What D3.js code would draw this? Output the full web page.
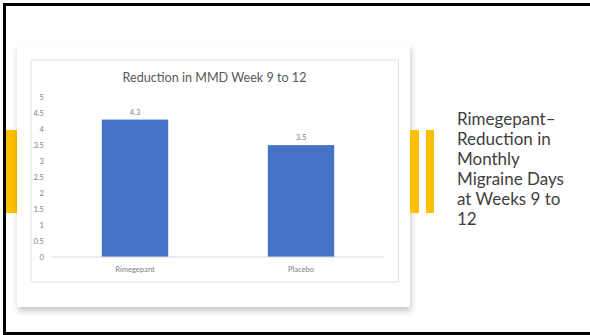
<!DOCTYPE html>
<html>
<head>
<meta charset="utf-8">
<script src="https://cdn.jsdelivr.net/npm/d3@7"></script>
<style>
  html, body { margin: 0; padding: 0; background: #fff; }
  svg { display: block; }
</style>
</head>
<body>
<svg id="slide" width="590" height="335"></svg>
<script>
// Chart data
const categories = ["Rimegepant", "Placebo"];
const values = [4.3, 3.5];
const yTicks = [0, 0.5, 1, 1.5, 2, 2.5, 3, 3.5, 4, 4.5, 5];
const chartTitle = "Reduction in MMD Week 9 to 12";
const sideTextLines = ["Rimegepant\u2013", "Reduction in", "Monthly", "Migraine Days", "at Weeks 9 to", "12"];

const svg = d3.select("#slide");
const FONT = "Lato, 'Open Sans', sans-serif";

// Soft drop shadow for the card
const defs = svg.append("defs");
const f = defs.append("filter").attr("id", "cardShadow")
  .attr("x", "-5%").attr("y", "-5%").attr("width", "110%").attr("height", "115%");
f.append("feDropShadow").attr("dx", 1).attr("dy", 4).attr("stdDeviation", 3)
  .attr("flood-color", "#000").attr("flood-opacity", 0.22);

// Slide frame (top, left, bottom rules)
svg.append("rect").attr("x", 3).attr("y", 3).attr("width", 587).attr("height", 3).attr("fill", "#000");
svg.append("rect").attr("x", 3).attr("y", 3).attr("width", 3).attr("height", 332).attr("fill", "#000");
svg.append("rect").attr("x", 3).attr("y", 332).attr("width", 587).attr("height", 3).attr("fill", "#000");

// Accent bars
const accent = "#FFC000";
svg.append("rect").attr("x", 6).attr("y", 130).attr("width", 11).attr("height", 83).attr("fill", accent);

// Card
svg.append("rect").attr("x", 17).attr("y", 44).attr("width", 393).attr("height", 263)
  .attr("fill", "#fff").attr("filter", "url(#cardShadow)");

svg.append("rect").attr("x", 410).attr("y", 130).attr("width", 9).attr("height", 83).attr("fill", accent);
svg.append("rect").attr("x", 426).attr("y", 130).attr("width", 8).attr("height", 83).attr("fill", accent);

// Chart area border
svg.append("rect").attr("x", 31).attr("y", 60).attr("width", 367.5).attr("height", 222)
  .attr("fill", "none").attr("stroke", "#d9d9d9").attr("stroke-width", 0.8);

// Title
svg.append("text").attr("x", 214.5).attr("y", 81.5)
  .attr("text-anchor", "middle").attr("font-family", FONT).attr("font-size", 12.6)
  .attr("fill", "#595959").text(chartTitle);

// Scales
const x = d3.scaleBand().domain(categories).range([52, 384]).paddingInner(0.6).paddingOuter(0.3);
const y = d3.scaleLinear().domain([0, 5]).range([257, 97.2]);

// Y axis labels
const yAxis = svg.append("g").attr("transform", "translate(45,0)")
  .call(d3.axisLeft(y).tickValues(yTicks).tickSize(0).tickPadding(1).tickFormat(d3.format("~g")));
yAxis.select(".domain").remove();
yAxis.selectAll("text").attr("font-family", FONT).attr("font-size", 7.6).attr("fill", "#808080");

// Bars
svg.append("g").selectAll("rect").data(values).join("rect")
  .attr("x", (d, i) => x(categories[i]))
  .attr("y", d => y(d))
  .attr("width", x.bandwidth())
  .attr("height", d => y(0) - y(d))
  .attr("fill", "#4472C4");

// Value labels
svg.append("g").selectAll("text").data(values).join("text")
  .attr("x", (d, i) => x(categories[i]) + x.bandwidth() / 2)
  .attr("y", d => y(d) - 5)
  .attr("text-anchor", "middle").attr("font-family", FONT).attr("font-size", 7.6)
  .attr("fill", "#808080").text(d => d3.format(".1f")(d));

// Category axis
const xAxis = svg.append("g").attr("transform", `translate(0,${y(0)})`)
  .call(d3.axisBottom(x).tickSize(0).tickPadding(10));
xAxis.select(".domain").attr("stroke", "#d9d9d9").attr("stroke-width", 1.2)
  .attr("d", "M52,0H384");
xAxis.selectAll("text").attr("font-family", FONT).attr("font-size", 7.6).attr("fill", "#808080");

// Side caption
svg.append("g").selectAll("text").data(sideTextLines).join("text")
  .attr("x", 457).attr("y", (d, i) => 125 + i * 20)
  .attr("font-family", FONT).attr("font-size", 17).attr("fill", "#404040")
  .text(d => d);
</script>
</body>
</html>
